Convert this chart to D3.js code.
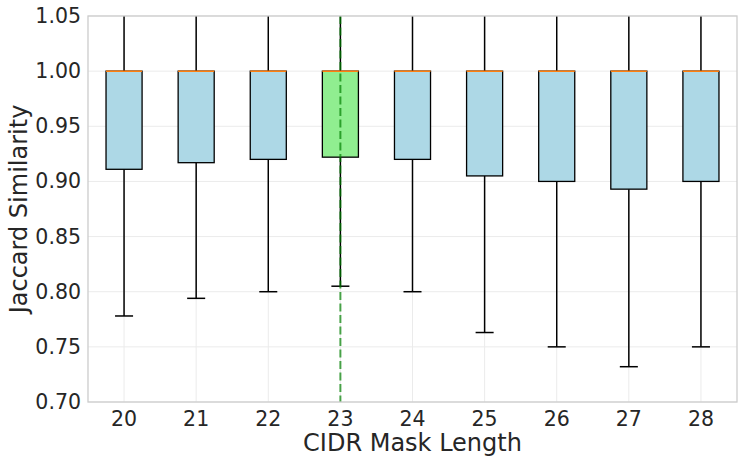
<!DOCTYPE html>
<html>
<head>
<meta charset="utf-8">
<script src="https://cdn.jsdelivr.net/npm/d3@7"></script>
<style>
  body { margin: 0; background: #fff; }
  text { font-family: "DejaVu Sans", sans-serif; fill: #262626; }
</style>
</head>
<body>
<div id="chart"></div>
<script>
// CIDR mask lengths and box statistics
var masks = ["20", "21", "22", "23", "24", "25", "26", "27", "28"];
var q1 = [0.911, 0.917, 0.920, 0.922, 0.920, 0.905, 0.900, 0.893, 0.900];
var medians = [1.00, 1.00, 1.00, 1.00, 1.00, 1.00, 1.00, 1.00, 1.00];
var q3 = [1.00, 1.00, 1.00, 1.00, 1.00, 1.00, 1.00, 1.00, 1.00];
var whiskerLow = [0.778, 0.794, 0.800, 0.805, 0.800, 0.763, 0.750, 0.732, 0.750];
var whiskerHigh = [1.10, 1.10, 1.10, 1.10, 1.10, 1.10, 1.10, 1.10, 1.10];
var highlight = "23";
var yTicks = [0.70, 0.75, 0.80, 0.85, 0.90, 0.95, 1.00, 1.05];

var full_width = 744, full_height = 463;
var margin = {top: 16, right: 7, bottom: 61, left: 88};
var width = full_width - margin.left - margin.right;
var height = full_height - margin.top - margin.bottom;

var svg = d3.select("#chart")
  .append("svg")
    .attr("width", full_width)
    .attr("height", full_height)
  .append("g")
    .attr("transform", "translate(" + margin.left + "," + margin.top + ")");

var x = d3.scaleBand()
  .domain(masks)
  .range([0, width]);
var y = d3.scaleLinear()
  .domain([0.70, 1.05])
  .range([height, 0]);

var boxW = x.bandwidth() * 0.5;
var capW = x.bandwidth() * 0.25;
function cx(d) { return x(d) + x.bandwidth() / 2; }

// grid
svg.append("g")
  .selectAll("line.hgrid")
  .data(yTicks)
  .enter().append("line")
    .attr("x1", 0).attr("x2", width)
    .attr("y1", d => y(d)).attr("y2", d => y(d))
    .style("stroke", "#ebebeb").style("stroke-width", 1);
svg.append("g")
  .selectAll("line.vgrid")
  .data(masks)
  .enter().append("line")
    .attr("x1", d => cx(d)).attr("x2", d => cx(d))
    .attr("y1", 0).attr("y2", height)
    .style("stroke", "#ebebeb").style("stroke-width", 1);

svg.append("clipPath").attr("id", "plotclip")
  .append("rect").attr("width", width).attr("height", height);

var plot = svg.append("g").attr("clip-path", "url(#plotclip)");

var boxes = masks.map(function(m, i) {
  return {mask: m, q1: q1[i], med: medians[i], q3: q3[i], lo: whiskerLow[i], hi: whiskerHigh[i]};
});

// whiskers
plot.selectAll("line.wlo")
  .data(boxes).enter().append("line")
    .attr("x1", d => cx(d.mask)).attr("x2", d => cx(d.mask))
    .attr("y1", d => y(d.q1)).attr("y2", d => y(d.lo))
    .style("stroke", "#000").style("stroke-width", 1.5);
plot.selectAll("line.whi")
  .data(boxes).enter().append("line")
    .attr("x1", d => cx(d.mask)).attr("x2", d => cx(d.mask))
    .attr("y1", d => y(d.q3)).attr("y2", d => y(d.hi))
    .style("stroke", "#000").style("stroke-width", 1.5);
// caps
plot.selectAll("line.caplo")
  .data(boxes).enter().append("line")
    .attr("x1", d => cx(d.mask) - capW / 2).attr("x2", d => cx(d.mask) + capW / 2)
    .attr("y1", d => y(d.lo)).attr("y2", d => y(d.lo))
    .style("stroke", "#000").style("stroke-width", 1.5);

// boxes
plot.selectAll("rect.box")
  .data(boxes).enter().append("rect")
    .attr("x", d => cx(d.mask) - boxW / 2)
    .attr("width", boxW)
    .attr("y", d => y(d.q3))
    .attr("height", d => y(d.q1) - y(d.q3))
    .style("fill", d => d.mask == highlight ? "#90ee90" : "#add8e6")
    .style("stroke", "#000")
    .style("stroke-width", 1.3);

// medians
plot.selectAll("line.median")
  .data(boxes).enter().append("line")
    .attr("x1", d => cx(d.mask) - boxW / 2).attr("x2", d => cx(d.mask) + boxW / 2)
    .attr("y1", d => y(d.med)).attr("y2", d => y(d.med))
    .style("stroke", "#ff7f0e").style("stroke-width", 1.5);

// highlighted mask line
plot.append("line")
  .attr("x1", cx(highlight)).attr("x2", cx(highlight))
  .attr("y1", 0).attr("y2", height)
  .style("stroke", "#008000")
  .style("stroke-opacity", 0.7)
  .style("stroke-width", 2)
  .style("stroke-dasharray", "8,3.5");

// frame
svg.append("rect")
  .attr("width", width).attr("height", height)
  .style("fill", "none").style("stroke", "#cccccc").style("stroke-width", 1.3);

// axes
var xAxis = svg.append("g")
  .attr("transform", "translate(0," + height + ")")
  .call(d3.axisBottom(x).tickSize(0).tickPadding(9));
xAxis.select(".domain").remove();
xAxis.selectAll("text").style("font-size", "20.5px").attr("dy", "0.71em");

var yAxis = svg.append("g")
  .call(d3.axisLeft(y).tickValues(yTicks).tickFormat(d3.format(".2f")).tickSize(0).tickPadding(7));
yAxis.select(".domain").remove();
yAxis.selectAll("text").style("font-size", "20.5px");

svg.append("text")
  .attr("x", width / 2)
  .attr("y", height + 49)
  .style("text-anchor", "middle")
  .style("font-size", "24px")
  .text("CIDR Mask Length");

svg.append("text")
  .attr("transform", "rotate(-90)")
  .attr("x", -height / 2)
  .attr("y", -margin.left + 27)
  .style("text-anchor", "middle")
  .style("font-size", "24px")
  .text("Jaccard Similarity");
</script>
</body>
</html>
